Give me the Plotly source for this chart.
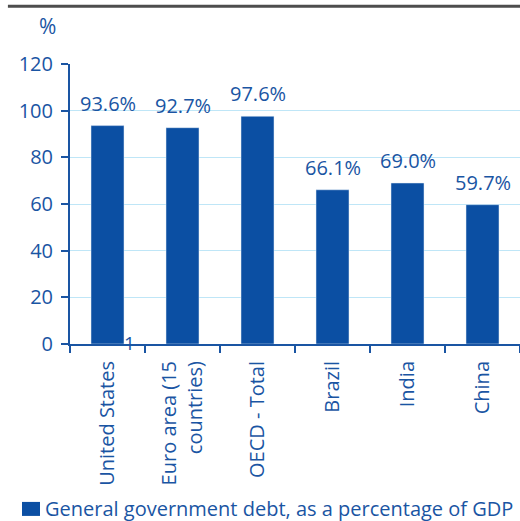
import plotly.graph_objects as go

categories = ["United States", "Euro area (15<br>countries)", "OECD - Total", "Brazil", "India", "China"]
values = [93.6, 92.7, 97.6, 66.1, 69.0, 59.7]
labels = ["93.6%", "92.7%", "97.6%", "66.1%", "69.0%", "59.7%"]
y_ticks = [0, 20, 40, 60, 80, 100, 120]
series_name = "General government debt, as a percentage of GDP"

BAR = "#0b4fa3"
TXT = "#1a55a3"
GRID = "#bfe6f7"
FONT = "Open Sans"

fig = go.Figure()
fig.add_trace(go.Bar(x=categories, y=values, marker_color=BAR, width=0.44,
                     name=series_name, showlegend=False))

for c, v, t in zip(categories, values, labels):
    fig.add_annotation(x=c, y=v, text=t, showarrow=False, yanchor="bottom",
                       yshift=7, font=dict(family=FONT, size=20, color=TXT))

# units label
fig.add_annotation(xref="paper", yref="paper", x=-0.049, y=1.137, text="%",
                   showarrow=False, xanchor="center", yanchor="middle",
                   font=dict(family=FONT, size=21, color=TXT))
# stray "1" marker near first category
fig.add_annotation(xref="paper", yref="paper", x=0.133, y=0.004, text="1",
                   showarrow=False, xanchor="center", yanchor="middle",
                   font=dict(family=FONT, size=19, color=TXT))

# top rule
fig.add_shape(type="line", xref="paper", yref="paper", x0=-0.138, x1=1.0,
              y0=1.206, y1=1.206, line=dict(color="#4d4d4d", width=3))

# manual legend
fig.add_shape(type="rect", xref="paper", yref="paper", x0=-0.1067, x1=-0.0667,
              y0=-0.614, y1=-0.564, fillcolor=BAR, line=dict(width=0))
fig.add_annotation(xref="paper", yref="paper", x=-0.06, y=-0.589, text=series_name,
                   showarrow=False, xanchor="left", yanchor="middle",
                   font=dict(family=FONT, size=20, color=TXT))

fig.update_layout(
    width=520, height=521,
    margin=dict(l=70, r=0, t=63.5, b=176.5),
    paper_bgcolor="white", plot_bgcolor="white",
    bargap=0.56,
    font=dict(family=FONT, color=TXT),
)
fig.update_xaxes(
    tickangle=-90, tickson="boundaries", ticks="outside", ticklen=7,
    tickcolor=TXT, tickwidth=2, showline=True, linecolor=TXT, linewidth=2,
    tickfont=dict(family=FONT, size=20, color=TXT), showgrid=False,
    ticklabelstandoff=7,
)
fig.update_yaxes(
    range=[0, 120], tickvals=y_ticks, ticks="outside", ticklen=7,
    tickcolor=TXT, tickwidth=2, showline=True, linecolor=TXT, linewidth=2,
    gridcolor=GRID, gridwidth=1, zeroline=False,
    tickfont=dict(family=FONT, size=20, color=TXT), ticklabelstandoff=4,
)

fig.write_html("out.html")
